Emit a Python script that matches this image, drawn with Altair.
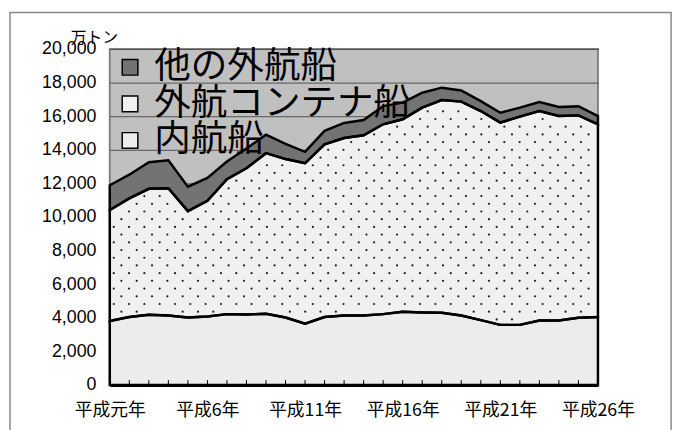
import altair as alt
import numpy as np
import pandas as pd

# ---- data (万トン), 平成元年 .. 平成26年 ----
years = list(range(1, 27))
tick_values = [1, 6, 11, 16, 21, 26]
tick_labels = ["平成元年", "平成6年", "平成11年", "平成16年", "平成21年", "平成26年"]
series_names = ["他の外航船", "外航コンテナ船", "内航船"]

domestic = [3810, 4050, 4180, 4140, 4020, 4080, 4220, 4200, 4240, 4020, 3650, 4050, 4140,
            4140, 4220, 4360, 4320, 4300, 4140, 3860, 3580, 3580, 3840, 3840, 4000, 4050]
container = [6610, 7060, 7500, 7570, 6330, 6890, 8030, 8700, 9560, 9430, 9550, 10280, 10560,
             10730, 11300, 11460, 12190, 12660, 12730, 12450, 12040, 12400, 12470, 12170, 12050, 11470]
other = [1470, 1410, 1580, 1670, 1460, 1360, 1050, 1180, 1100, 900, 680, 800, 900,
         900, 1080, 990, 890, 740, 660, 590, 590, 530, 530, 540, 550, 490]

W, H = 494, 340

rows = []
for i, y in enumerate(years):
    rows.append({"year": y, "series": "内航船", "value": domestic[i], "ord": 0})
    rows.append({"year": y, "series": "外航コンテナ船", "value": container[i], "ord": 1})
    rows.append({"year": y, "series": "他の外航船", "value": other[i], "ord": 2})
df = pd.DataFrame(rows)

# ---- dot texture for the container band (decoration only) ----
lower = np.array(domestic, dtype=float)
upper = lower + np.array(container, dtype=float)
x_per_px = (years[-1] - years[0]) / W
y_per_px = 20000 / H
pts = []
r = 0
ypx = H - 4.0
while ypx > 0:
    xpx = 4.0 + (r % 2) * 7.75
    while xpx < W - 2:
        xv = years[0] + xpx * x_per_px
        yv = (H - ypx) * y_per_px
        lo = np.interp(xv, years, lower)
        hi = np.interp(xv, years, upper)
        if lo + 4 * y_per_px < yv < hi - 5 * y_per_px:
            pts.append({"year": xv, "value": yv})
        xpx += 15.5
    ypx -= 7.8
    r += 1
dots_df = pd.DataFrame(pts)

label_expr = " : ".join(f"datum.value == {v} ? '{l}'" for v, l in zip(tick_values, tick_labels)) + " : ''"

x_scale = alt.Scale(domain=[years[0], years[-1]], nice=False, zero=False)
y_scale = alt.Scale(domain=[0, 20000], nice=False)

x_axis = alt.Axis(
    values=years, labelExpr=label_expr, grid=False, ticks=False,
    domainColor="black", domainWidth=3, labelFontSize=18,
    labelFont="Noto Sans CJK JP", labelColor="black", labelPadding=17,
    labelOverlap=False, labelBound=False, labelFlush=False,
)
y_axis = alt.Axis(
    values=list(range(0, 20001, 2000)), format=",d", grid=True, gridColor="#505050",
    gridWidth=1, domain=False, ticks=False, labelFontSize=18,
    labelFont="Liberation Sans", labelColor="black", labelPadding=14,
    labelOverlap=False,
    titleAngle=0, titleFontSize=16, titleFontWeight="normal",
    titleFont="Noto Sans CJK JP", titleColor="black", titleX=-40, titleY=-4,
    titleAlign="left", titleBaseline="bottom",
)


def xe():
    return alt.X("year:Q", title="", scale=x_scale, axis=x_axis)


def ye(stacked=True):
    if stacked:
        return alt.Y("value:Q", title="万トン", stack="zero", scale=y_scale, axis=y_axis)
    return alt.Y("value:Q", title="万トン", scale=y_scale, axis=y_axis)


base = alt.Chart(df)

fills = base.mark_area(opacity=1).encode(
    x=xe(),
    y=ye(),
    color=alt.Color(
        "series:N",
        scale=alt.Scale(domain=series_names, range=["#737373", "#f0f0f0", "#ececec"]),
        legend=alt.Legend(
            title=None, orient="none", legendX=2, legendY=0, padding=0,
            labelFontSize=37, labelFont="Noto Sans CJK JP", labelColor="black",
            labelLimit=500, labelOffset=6, rowPadding=-1,
            symbolType="square", symbolSize=250, symbolStrokeColor="black",
            symbolStrokeWidth=1.5, symbolOpacity=1,
        ),
    ),
    order=alt.Order("ord:Q"),
)

dots = alt.Chart(dots_df).mark_circle(size=5, color="#202020", opacity=1).encode(
    x=xe(), y=ye(stacked=False)
)

strokes = base.mark_area(fillOpacity=0, stroke="black", strokeWidth=2.5).encode(
    x=xe(),
    y=ye(),
    detail="series:N",
    order=alt.Order("ord:Q"),
)

ticks = alt.Chart(pd.DataFrame({"year": years})).mark_rule(color="black", strokeWidth=1).encode(
    x=xe(), y=alt.value(H), y2=alt.value(H - 5)
)

border = alt.Chart(pd.DataFrame({"a": [0]})).mark_rect(
    filled=False, stroke="#888888", strokeWidth=1.5
).encode(
    x=alt.value(-101), x2=alt.value(W + 74), y=alt.value(-37), y2=alt.value(H + 80)
)

chart = alt.layer(fills, dots, strokes, ticks, border).properties(
    width=W,
    height=H,
    autosize=alt.AutoSizeParams(type="none"),
    padding={"left": 103, "top": 39, "right": 80, "bottom": 43},
).configure_view(fill="#c0c0c0", stroke="#808080", strokeWidth=2)

chart.save("out.html", embed_options={"renderer": "svg", "actions": False})
